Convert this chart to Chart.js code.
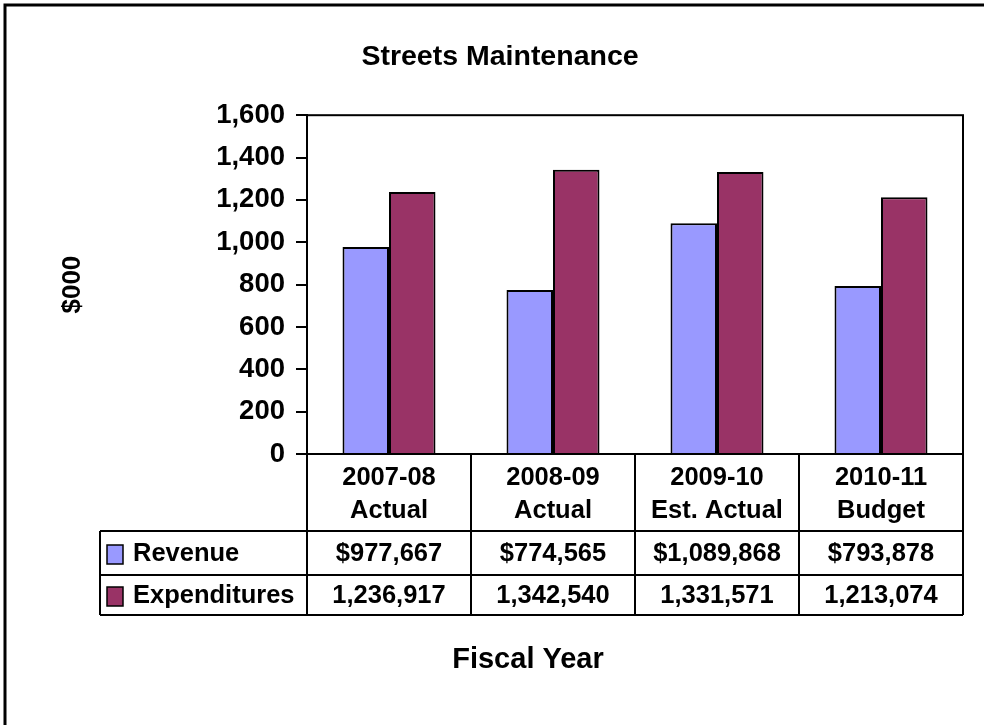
<!DOCTYPE html>
<html>
<head>
<meta charset="utf-8">
<title>Streets Maintenance</title>
<script src="https://cdn.jsdelivr.net/npm/chart.js@4.4.1/dist/chart.umd.min.js"></script>
<style>
  html, body { margin: 0; padding: 0; background: #fff; }
  #wrap { width: 984px; height: 725px; position: relative; }
</style>
</head>
<body>
<div id="wrap"><canvas id="chart" width="984" height="725"></canvas></div>
<script>
// Fiscal years (two-line headers) and amounts in $000
const categories = [['2007-08', 'Actual'], ['2008-09', 'Actual'], ['2009-10', 'Est. Actual'], ['2010-11', 'Budget']];
const revenue = [977.667, 774.565, 1089.868, 793.878];
const expenditures = [1236.917, 1342.540, 1331.571, 1213.074];
const seriesNames = ['Revenue', 'Expenditures'];
const seriesColors = ['#9999FF', '#993366'];

const FONT = "'Liberation Sans', Arial, sans-serif";
Chart.defaults.font.family = FONT;
Chart.defaults.font.weight = 'bold';
Chart.defaults.color = '#000';

function dollars(v, prefix) {
    return prefix + Math.round(v * 1000).toLocaleString('en-US');
}

// Outer frame, plot box, data table under the x axis and the x axis title
const tablePlugin = {
    id: 'dataTable',
    beforeDraw(chart) {
        const ctx = chart.ctx;
        ctx.save();
        ctx.fillStyle = '#fff';
        ctx.fillRect(0, 0, chart.width, chart.height);
        ctx.strokeStyle = '#000';
        ctx.lineWidth = 3;
        ctx.strokeRect(5, 5, chart.width + 20, chart.height + 20);
        ctx.restore();
    },
    afterDraw(chart) {
        const ctx = chart.ctx;
        const area = chart.chartArea;
        const xs = chart.scales.x;
        const colW = (area.right - area.left) / categories.length;
        const top = area.bottom;
        const headBottom = top + 77;
        const row1 = top + 121;
        const row2 = top + 161;
        const legendLeft = 100;

        ctx.save();
        ctx.strokeStyle = '#000';
        ctx.lineWidth = 2;
        // plot area box
        ctx.strokeRect(area.left, area.top, area.right - area.left, area.bottom - area.top);

        ctx.beginPath();
        for (let i = 0; i <= categories.length; i++) {
            const x = area.left + i * colW;
            ctx.moveTo(x, top);
            ctx.lineTo(x, row2);
        }
        [headBottom, row1, row2].forEach(y => {
            ctx.moveTo(legendLeft, y);
            ctx.lineTo(area.right, y);
        });
        ctx.moveTo(legendLeft, headBottom);
        ctx.lineTo(legendLeft, row2);
        ctx.stroke();

        ctx.fillStyle = '#000';
        ctx.font = 'bold 25.5px ' + FONT;
        ctx.textAlign = 'center';
        ctx.textBaseline = 'middle';
        categories.forEach((lines, i) => {
            const cx = xs.getPixelForValue(i);
            ctx.fillText(lines[0], cx, top + 24);
            ctx.fillText(lines[1], cx, top + 57);
            ctx.fillText(dollars(revenue[i], '$'), cx, headBottom + 23);
            ctx.fillText(dollars(expenditures[i], ''), cx, row1 + 21);
        });

        // legend keys in the first column
        const rowMids = [headBottom + 23, row1 + 21];
        seriesNames.forEach((name, k) => {
            const y = rowMids[k];
            ctx.fillStyle = seriesColors[k];
            ctx.fillRect(107, y - 9, 16, 19);
            ctx.lineWidth = 1.5;
            ctx.strokeRect(107, y - 9, 16, 19);
            ctx.fillStyle = '#000';
            ctx.textAlign = 'left';
            ctx.fillText(name, 133, y);
        });

        ctx.font = 'bold 29px ' + FONT;
        ctx.textAlign = 'center';
        ctx.fillText('Fiscal Year', 528, 660);
        ctx.restore();
    }
};

const ctx = document.getElementById('chart').getContext('2d');
new Chart(ctx, {
    type: 'bar',
    data: {
        labels: categories.map(c => c.join(' ')),
        datasets: [{
            label: seriesNames[0],
            data: revenue,
            backgroundColor: seriesColors[0],
            borderColor: '#000',
            borderWidth: 2
        }, {
            label: seriesNames[1],
            data: expenditures,
            backgroundColor: seriesColors[1],
            borderColor: '#000',
            borderWidth: 2
        }]
    },
    options: {
        responsive: false,
        animation: false,
        datasets: {
            bar: { categoryPercentage: 0.567, barPercentage: 1 }
        },
        layout: { padding: { left: 37, right: 21, top: 0, bottom: 0 } },
        plugins: {
            legend: { display: false },
            tooltip: { enabled: false },
            title: {
                display: true,
                text: 'Streets Maintenance',
                font: { size: 28.5, weight: 'bold' },
                color: '#000',
                padding: { top: 40, bottom: 41 }
            }
        },
        scales: {
            x: {
                grid: { display: false },
                border: { display: false },
                ticks: { display: false },
                afterFit(scale) { scale.height = 725 - 454; }
            },
            y: {
                min: 0,
                max: 1600,
                ticks: {
                    stepSize: 200,
                    padding: 11,
                    font: { size: 27.5, weight: 'bold' },
                    color: '#000',
                    callback: v => v.toLocaleString('en-US')
                },
                grid: {
                    drawOnChartArea: false,
                    drawTicks: true,
                    tickLength: 11,
                    color: '#000',
                    lineWidth: 2
                },
                border: { display: true, color: '#000', width: 2 },
                title: {
                    display: true,
                    text: '$000',
                    font: { size: 26, weight: 'bold' },
                    color: '#000',
                    padding: { top: 20, bottom: 0 }
                },
                afterFit(scale) { scale.width = 307 - 37; }
            }
        }
    },
    plugins: [tablePlugin]
});
</script>
</body>
</html>
